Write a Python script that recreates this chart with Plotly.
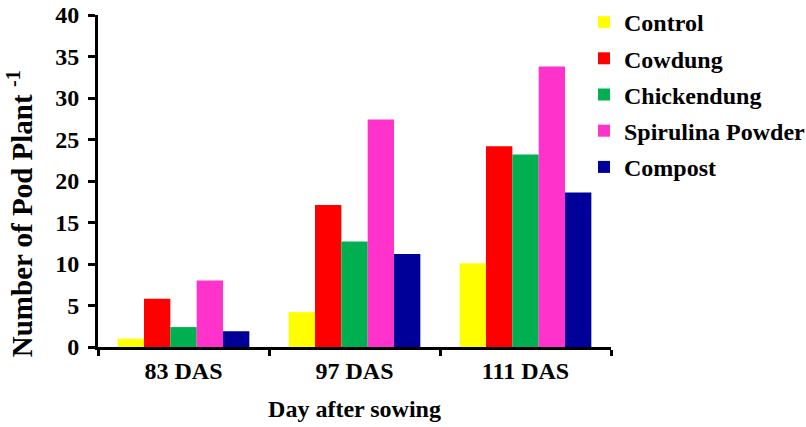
import plotly.graph_objects as go

categories = ["83 DAS", "97 DAS", "111 DAS"]
series_names = ["Control", "Cowdung", "Chickendung", "Spirulina Powder", "Compost"]
control = [1.0, 4.2, 10.1]
cowdung = [5.8, 17.1, 24.2]
chickendung = [2.4, 12.7, 23.2]
spirulina = [8.0, 27.4, 33.8]
compost = [1.9, 11.2, 18.6]
colors = ["#FFFF00", "#FF0000", "#00B050", "#FF33CC", "#000099"]
values = [control, cowdung, chickendung, spirulina, compost]

FONT = "Liberation Serif"

fig = go.Figure()
for i, (name, vals, col) in enumerate(zip(series_names, values, colors)):
    fig.add_trace(go.Bar(x=categories, y=vals, name=name, marker_color=col,
                         marker_line_width=0, legendgroup=f"g{i}"))

fig.update_layout(
    template="none",
    width=806, height=427,
    margin=dict(l=98, r=195, t=15, b=80, autoexpand=False),
    paper_bgcolor="white", plot_bgcolor="white",
    barmode="group", bargap=0.23, bargroupgap=0,
    font=dict(family=FONT, color="black", size=24, weight="bold"),
    legend=dict(xref="container", yref="container", x=584/806, y=1.0, xanchor="left", yanchor="top",
                font=dict(family=FONT, size=24, color="black", weight="bold"),
                tracegroupgap=2, bgcolor="rgba(0,0,0,0)", borderwidth=0),
    xaxis=dict(showline=True, linecolor="black", linewidth=3, ticks="outside", tickson="boundaries",
               ticklen=6, tickwidth=3, tickcolor="black", showgrid=False, zeroline=False,
               tickfont=dict(family=FONT, size=24, color="black", weight="bold"),
               title=dict(text="Day after sowing",
                          font=dict(family=FONT, size=24, color="black", weight="bold"),
                          standoff=18)),
    yaxis=dict(range=[0, 40], dtick=5, showline=True, linecolor="black", linewidth=3,
               ticks="outside", ticklen=7, tickwidth=3, tickcolor="black", showgrid=False,
               zeroline=False, ticklabelstandoff=4,
               tickfont=dict(family=FONT, size=24, color="black", weight="bold")),
    annotations=[dict(text="Number of Pod Plant <sup>-1</sup>", textangle=-90,
                      xref="paper", yref="paper", x=-0.152, y=0.40, xanchor="center", yanchor="middle",
                      showarrow=False,
                      font=dict(family=FONT, size=29, color="black", weight="bold"))],
)

fig.write_html("out.html")
